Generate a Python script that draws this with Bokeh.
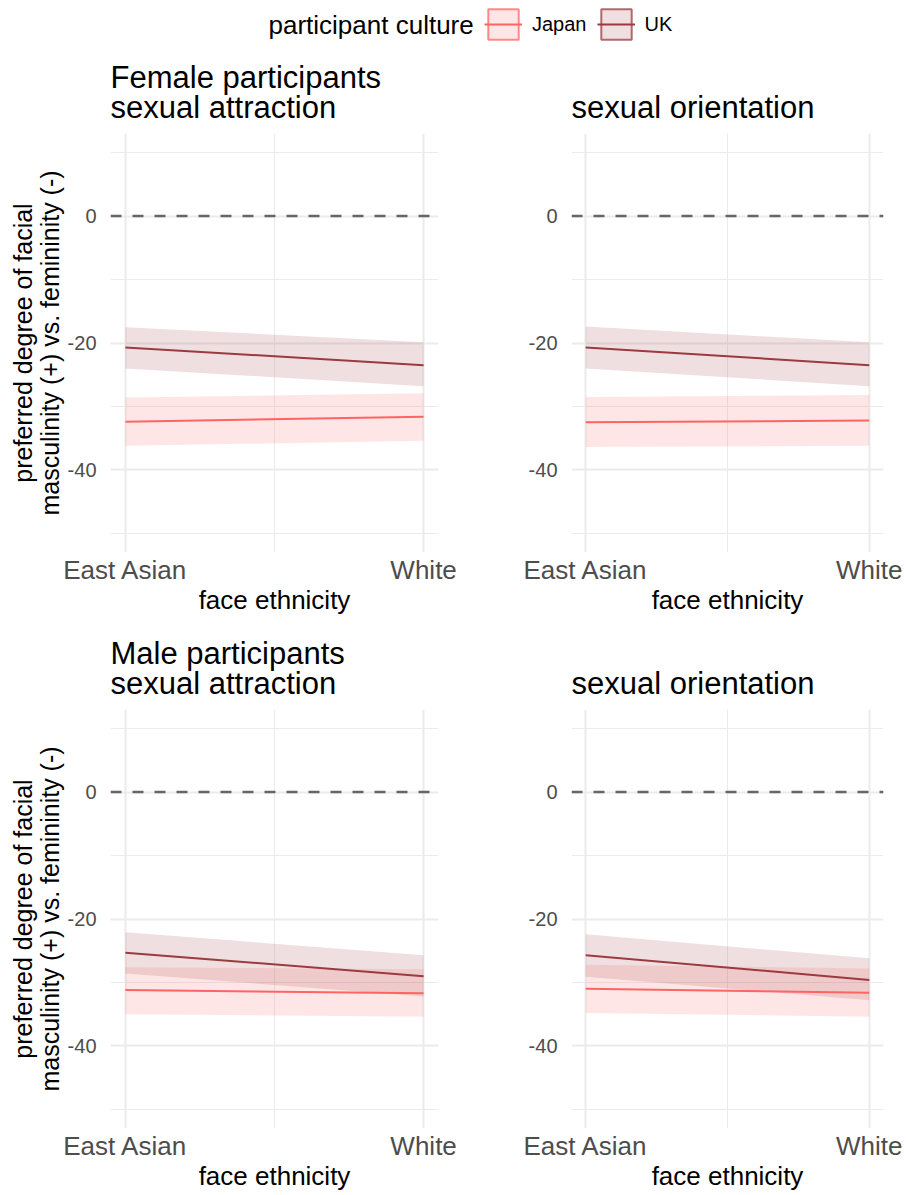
from bokeh.plotting import figure
from bokeh.layouts import column, row
from bokeh.models import (FixedTicker, Span, Title, Legend, LegendItem, Label,
                          Range1d)
from bokeh.embed import file_html
from bokeh.resources import INLINE

# ---------------- data ----------------
face_ethnicity = ["East Asian", "White"]
eth_pos = [0, 1]
cultures = ["Japan", "UK"]

# Female participants - sexual attraction
fa_uk_mean = [-20.7, -23.5]
fa_uk_lo = [-24.0, -26.8]
fa_uk_hi = [-17.5, -19.9]
fa_jp_mean = [-32.4, -31.6]
fa_jp_lo = [-36.2, -35.4]
fa_jp_hi = [-28.6, -27.9]

# Female participants - sexual orientation
fo_uk_mean = [-20.7, -23.5]
fo_uk_lo = [-24.0, -26.8]
fo_uk_hi = [-17.4, -19.9]
fo_jp_mean = [-32.5, -32.2]
fo_jp_lo = [-36.4, -36.2]
fo_jp_hi = [-28.5, -28.2]

# Male participants - sexual attraction
ma_uk_mean = [-25.3, -29.0]
ma_uk_lo = [-28.6, -32.2]
ma_uk_hi = [-22.1, -25.7]
ma_jp_mean = [-31.2, -31.7]
ma_jp_lo = [-35.0, -35.4]
ma_jp_hi = [-27.6, -27.9]

# Male participants - sexual orientation
mo_uk_mean = [-25.7, -29.6]
mo_uk_lo = [-29.1, -32.8]
mo_uk_hi = [-22.4, -26.2]
mo_jp_mean = [-31.0, -31.6]
mo_jp_lo = [-34.8, -35.4]
mo_jp_hi = [-27.2, -27.8]

reference_value = 0
y_major_ticks = [-40, -20, 0]
y_major_labels = ["-40", "-20", "0"]
y_minor_ticks = [-50, -30, -10, 10]
x_minor_ticks = [0.5]

# ---------------- style ----------------
FONT = "Liberation Sans"
JP_COLOR = "#FF6464"
UK_COLOR = "#9B3A3F"
RIBBON_ALPHA = 0.16
GRID = "#EBEBEB"
TICK_TEXT = "#4D4D4D"


def make_panel(width, height, bl, br, bt, bb, title, ylabel, d):
    p = figure(width=width, height=height, output_backend="svg",
               toolbar_location=None,
               x_range=Range1d(-0.05, 1.05), y_range=Range1d(-53, 13),
               min_border_left=bl, min_border_right=br,
               min_border_top=bt, min_border_bottom=bb)
    p.outline_line_color = None
    p.background_fill_color = "white"
    p.border_fill_color = "white"

    p.add_layout(Title(text=title, align="left", text_font=FONT,
                       text_font_size="31px", text_font_style="normal",
                       text_color="black", text_line_height=0.86, standoff=17),
                 "above")

    p.xaxis.ticker = FixedTicker(ticks=eth_pos, minor_ticks=x_minor_ticks)
    p.xaxis.major_label_overrides = {pos: lab for pos, lab in zip(eth_pos, face_ethnicity)}
    p.yaxis.ticker = FixedTicker(ticks=y_major_ticks, minor_ticks=y_minor_ticks)
    p.yaxis.major_label_overrides = {v: s for v, s in zip(y_major_ticks, y_major_labels)}
    for ax in (p.xaxis[0], p.yaxis[0]):
        ax.axis_line_color = None
        ax.major_tick_line_color = None
        ax.minor_tick_line_color = None
        ax.major_tick_out = 0
        ax.major_label_text_font = FONT
        ax.major_label_text_color = TICK_TEXT
        ax.axis_label_text_font = FONT
        ax.axis_label_text_font_style = "normal"
        ax.axis_label_text_color = "black"
    p.xaxis.major_label_text_font_size = "26px"
    p.yaxis.major_label_text_font_size = "20px"
    p.xaxis.axis_label_text_font_size = "26px"
    p.yaxis.axis_label_text_font_size = "25px"
    p.xaxis.major_label_text_line_height = 1.0
    p.xaxis.axis_label_text_line_height = 1.0
    p.xaxis.major_label_standoff = -2
    p.yaxis.major_label_standoff = 10
    p.xaxis.axis_label = "face ethnicity"
    p.xaxis.axis_label_standoff = -3
    if ylabel:
        p.yaxis.axis_label = "preferred degree of facial\nmasculinity (+) vs. femininity (-)"
        p.yaxis.axis_label_standoff = 1
        p.yaxis.axis_label_text_line_height = 0.95

    for g in (p.xgrid[0], p.ygrid[0]):
        g.grid_line_color = GRID
        g.grid_line_width = 2
        g.minor_grid_line_color = GRID
        g.minor_grid_line_width = 1

    p.add_layout(Span(location=reference_value, dimension="width",
                      line_color="#666666", line_width=2.5, line_dash="11 11"))

    p.varea(x=eth_pos, y1=d["jp_lo"], y2=d["jp_hi"], fill_color=JP_COLOR,
            fill_alpha=RIBBON_ALPHA)
    p.varea(x=eth_pos, y1=d["uk_lo"], y2=d["uk_hi"], fill_color=UK_COLOR,
            fill_alpha=RIBBON_ALPHA)
    p.line(x=eth_pos, y=d["jp_mean"], line_color=JP_COLOR, line_width=2)
    p.line(x=eth_pos, y=d["uk_mean"], line_color=UK_COLOR, line_width=2)
    return p


def pack(uk_mean, uk_lo, uk_hi, jp_mean, jp_lo, jp_hi):
    return dict(uk_mean=uk_mean, uk_lo=uk_lo, uk_hi=uk_hi,
                jp_mean=jp_mean, jp_lo=jp_lo, jp_hi=jp_hi)


LW, RW = 458, 448
LEG_H, TOP_H, BOT_H = 48, 576, 571

f1 = make_panel(LW, TOP_H, 110, 20, 85, 72,
                "Female participants\nsexual attraction", True,
                pack(fa_uk_mean, fa_uk_lo, fa_uk_hi, fa_jp_mean, fa_jp_lo, fa_jp_hi))
f2 = make_panel(RW, TOP_H, 113, 23, 85, 72,
                "sexual orientation", False,
                pack(fo_uk_mean, fo_uk_lo, fo_uk_hi, fo_jp_mean, fo_jp_lo, fo_jp_hi))
f3 = make_panel(LW, BOT_H, 110, 20, 85, 67,
                "Male participants\nsexual attraction", True,
                pack(ma_uk_mean, ma_uk_lo, ma_uk_hi, ma_jp_mean, ma_jp_lo, ma_jp_hi))
f4 = make_panel(RW, BOT_H, 113, 23, 85, 67,
                "sexual orientation", False,
                pack(mo_uk_mean, mo_uk_lo, mo_uk_hi, mo_jp_mean, mo_jp_lo, mo_jp_hi))

# ---------------- legend strip ----------------
# The legend's renderers reuse the first panel's values, drawn outside the
# visible range of this strip so that only the legend keys show.
lg = figure(width=LW + RW, height=LEG_H, output_backend="svg", toolbar_location=None,
            x_range=Range1d(-0.05, 1.05), y_range=Range1d(500, 501),
            min_border=0, x_axis_type=None, y_axis_type=None)
lg.outline_line_color = None
lg.xgrid.visible = False
lg.ygrid.visible = False
items = []
leg_series = [(fa_jp_mean, fa_jp_lo, fa_jp_hi), (fa_uk_mean, fa_uk_lo, fa_uk_hi)]
for name, col, (mean, lo, hi) in zip(cultures, [JP_COLOR, UK_COLOR], leg_series):
    q = lg.quad(left=eth_pos[:1], right=eth_pos[1:], bottom=lo[:1], top=hi[:1],
                fill_color=col, fill_alpha=RIBBON_ALPHA, line_color=col,
                line_alpha=0.75, line_width=2)
    ln = lg.line(x=eth_pos, y=mean, line_color=col, line_width=2)
    items.append(LegendItem(label=name, renderers=[q, ln]))
legend = Legend(items=items, orientation="horizontal", location=(484, 5),
                glyph_width=38, glyph_height=38, label_standoff=10, spacing=10,
                padding=0, margin=0, border_line_color=None,
                background_fill_alpha=0, label_text_font=FONT,
                label_text_font_size="20px", label_text_color="black")
lg.add_layout(legend, "center")
lg.add_layout(Label(x=268, y=23.6, x_units="screen", y_units="screen",
                    text="participant culture", text_font=FONT,
                    text_font_size="26px", text_baseline="middle",
                    text_color="black"))

layout = column(lg, row(f1, f2), row(f3, f4))
open("out.html", "w").write(file_html(layout, INLINE))
